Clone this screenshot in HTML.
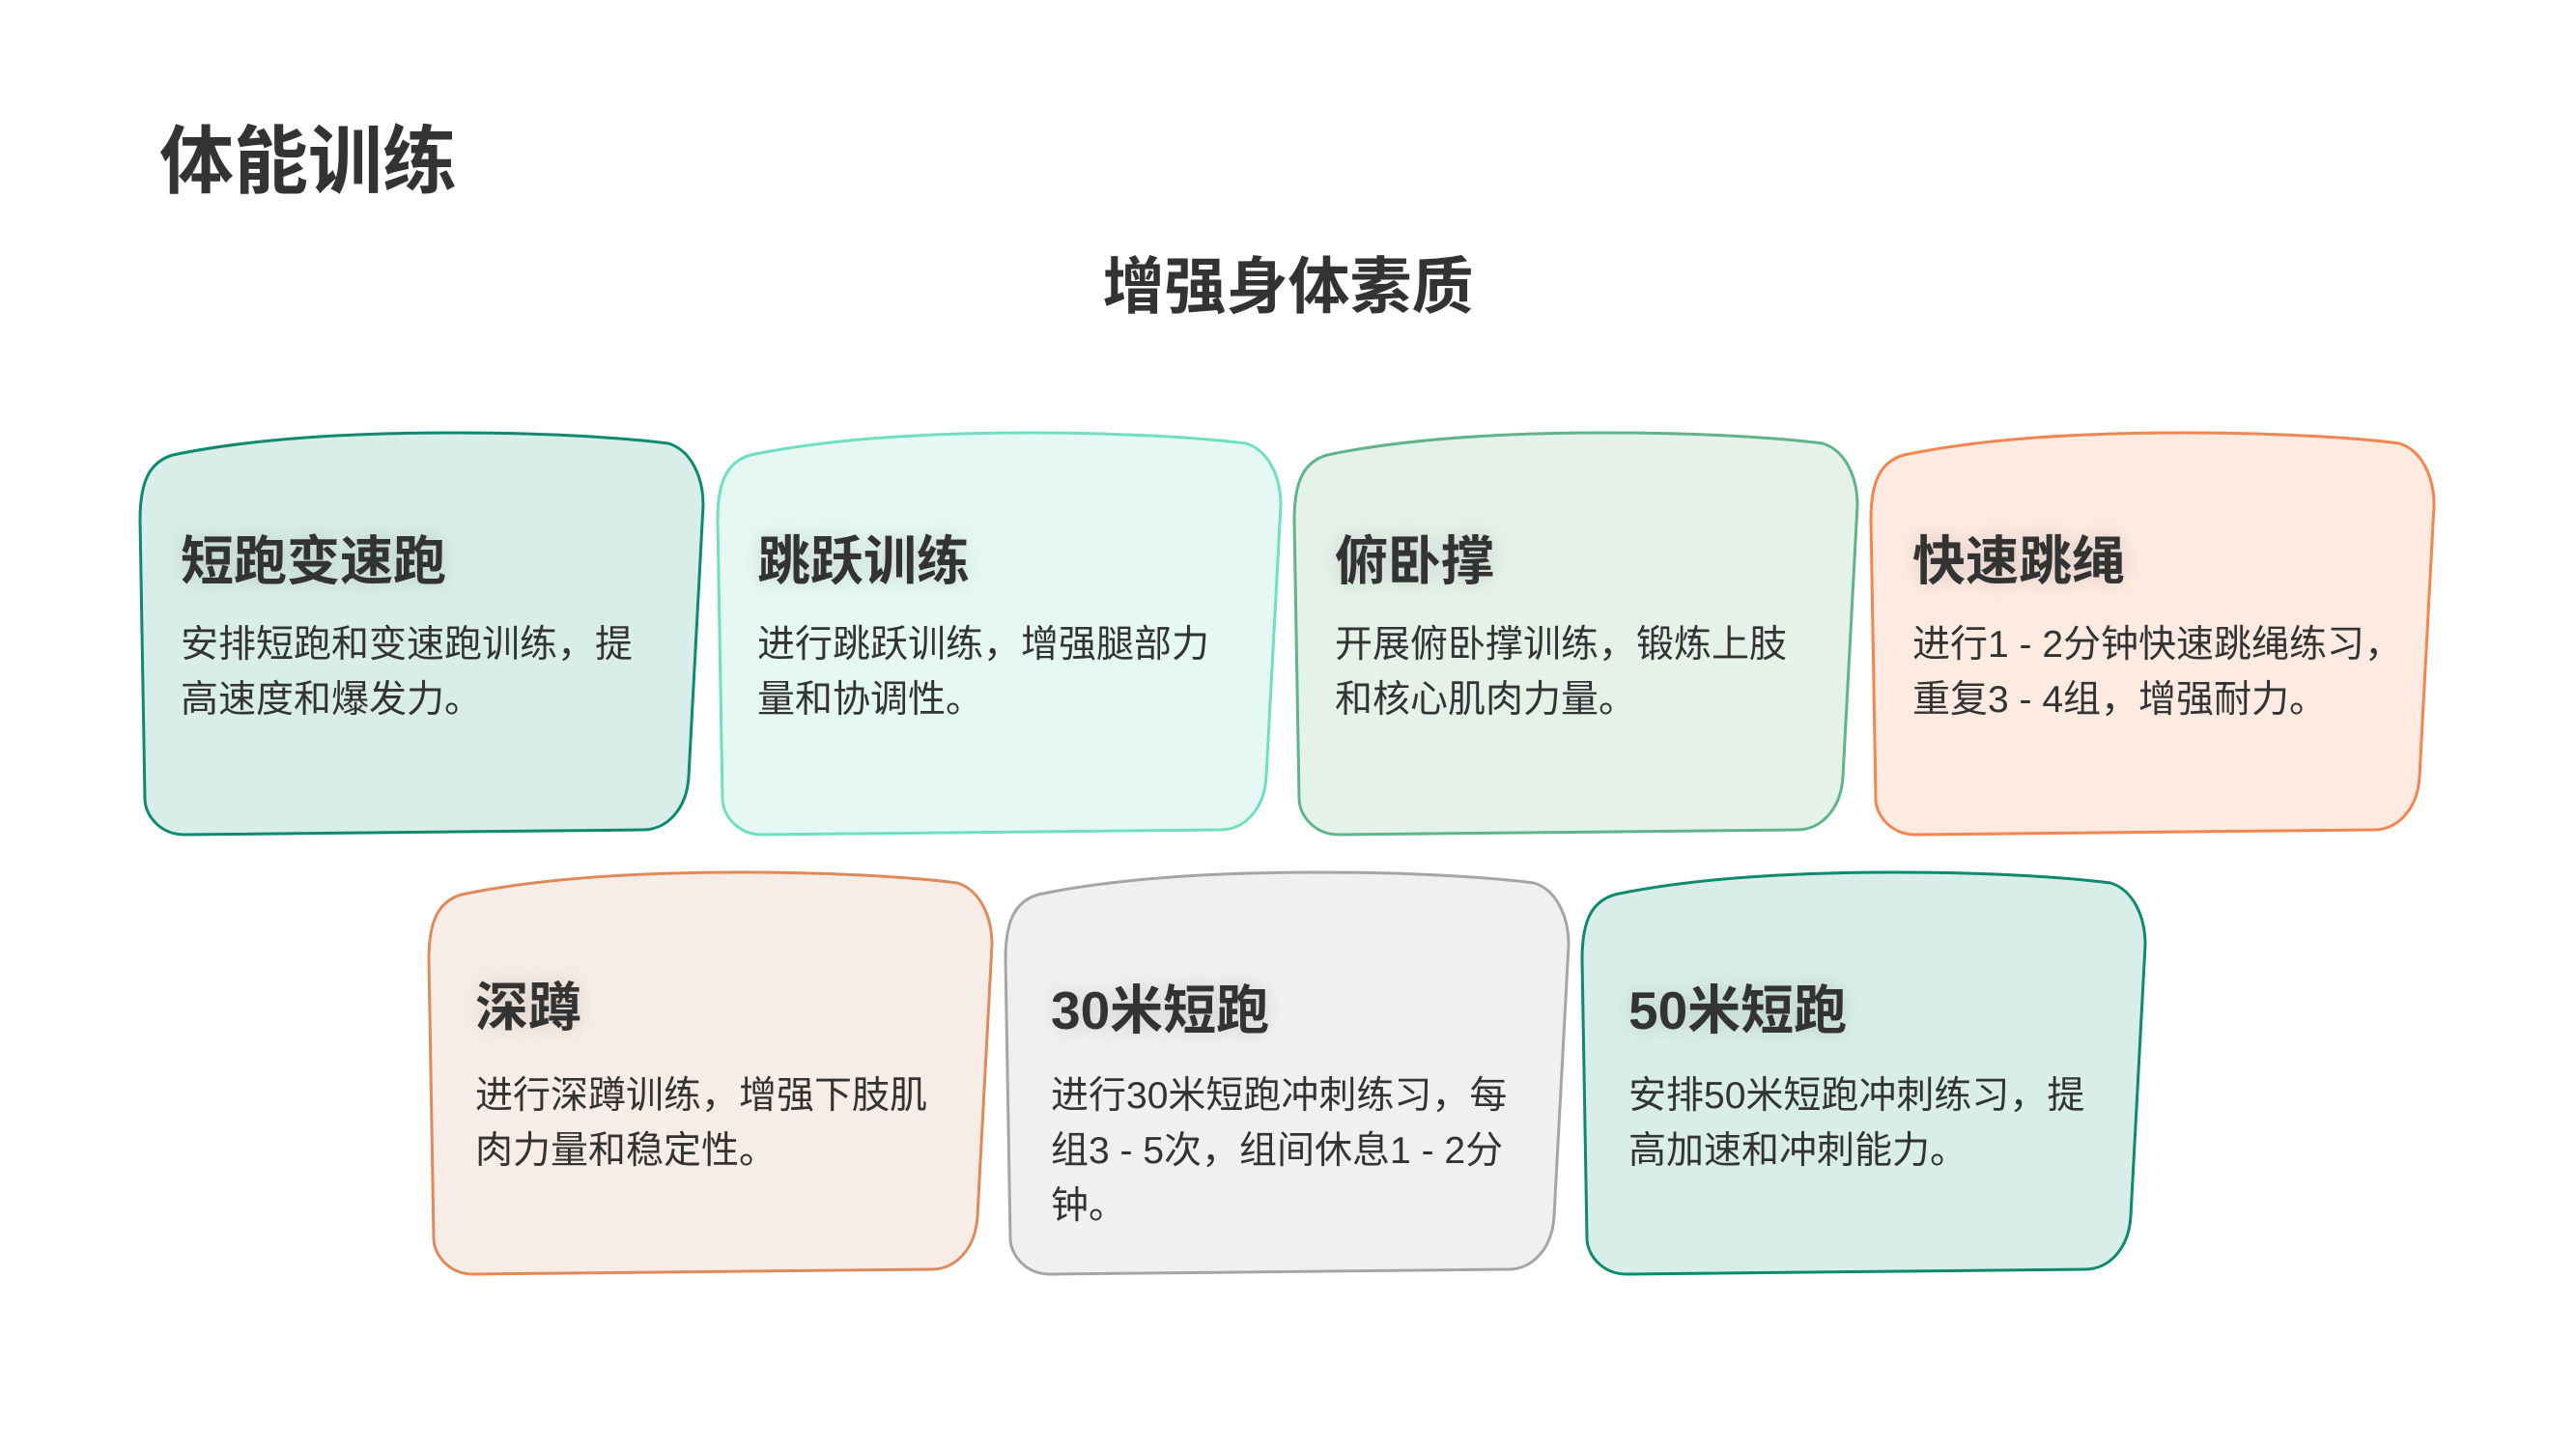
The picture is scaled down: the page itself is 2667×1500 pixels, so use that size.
<!DOCTYPE html>
<html><head><meta charset="utf-8">
<style>
html,body{margin:0;padding:0;background:#fff;}
body{width:2667px;height:1500px;position:relative;overflow:hidden;font-family:"Liberation Sans","Noto Sans CJK SC",sans-serif;color:#333;}
svg{position:absolute;left:0;top:0;}
.t{position:absolute;white-space:nowrap;}
.h1{left:165px;top:118px;font-size:77px;font-weight:bold;line-height:100px;color:#333;}
.h2{left:0;width:2667px;text-align:center;top:262px;font-size:64px;font-weight:bold;line-height:70px;}
.ct{font-size:55px;font-weight:bold;line-height:64px;text-shadow:0 0 22px rgba(0,0,0,0.14);}
.cb{font-size:39px;line-height:57px;width:500px;white-space:normal;}
</style></head><body>
<svg width="2667" height="1500" viewBox="0 0 2667 1500">
<defs>
<path id="c" d="M0,90 C0,50 10,30 34,23 C120,5 230,0 324,0 C420,0 500,5 547,11 C570,18 583,45 583,75 L568,356 C566,390 545,411 521,411 L46,416 C20,416 5,395 5,379 Z"/>
</defs>
<g stroke-width="3">
<use href="#c" x="145" y="448" fill="#d9eee8" stroke="#0e8a6e"/>
<use href="#c" x="743" y="448" fill="#e6f8f3" stroke="#6ee0c0"/>
<use href="#c" x="1340" y="448" fill="#e5f2ea" stroke="#5fb48a"/>
<use href="#c" x="1937" y="448" fill="#fdebe2" stroke="#f5854f"/>
<use href="#c" x="444" y="903" fill="#f8ede6" stroke="#e08a5c"/>
<use href="#c" x="1041" y="903" fill="#f0f0ee" stroke="#a8a4a4"/>
<use href="#c" x="1638" y="903" fill="#d9eee8" stroke="#0e8a6e"/>
</g>
</svg>
<div class="t h1">体能训练</div>
<div class="t h2">增强身体素质</div>

<div class="t ct" style="left:187px;top:549px">短跑变速跑</div>
<div class="t cb" style="left:187px;top:639px">安排短跑和变速跑训练，提高速度和爆发力。</div>

<div class="t ct" style="left:784px;top:549px">跳跃训练</div>
<div class="t cb" style="left:784px;top:639px">进行跳跃训练，增强腿部力量和协调性。</div>

<div class="t ct" style="left:1382px;top:549px">俯卧撑</div>
<div class="t cb" style="left:1382px;top:639px">开展俯卧撑训练，锻炼上肢和核心肌肉力量。</div>

<div class="t ct" style="left:1980px;top:549px">快速跳绳</div>
<div class="t cb" style="left:1980px;top:639px;width:520px">进行1 - 2分钟快速跳绳练习，重复3 - 4组，增强耐力。</div>

<div class="t ct" style="left:492px;top:1011px">深蹲</div>
<div class="t cb" style="left:492px;top:1106px">进行深蹲训练，增强下肢肌肉力量和稳定性。</div>

<div class="t ct" style="left:1088px;top:1014px">30米短跑</div>
<div class="t cb" style="left:1088px;top:1106px">进行30米短跑冲刺练习，每组3 - 5次，组间休息1 - 2分钟。</div>

<div class="t ct" style="left:1686px;top:1014px">50米短跑</div>
<div class="t cb" style="left:1686px;top:1106px">安排50米短跑冲刺练习，提高加速和冲刺能力。</div>
</body></html>
